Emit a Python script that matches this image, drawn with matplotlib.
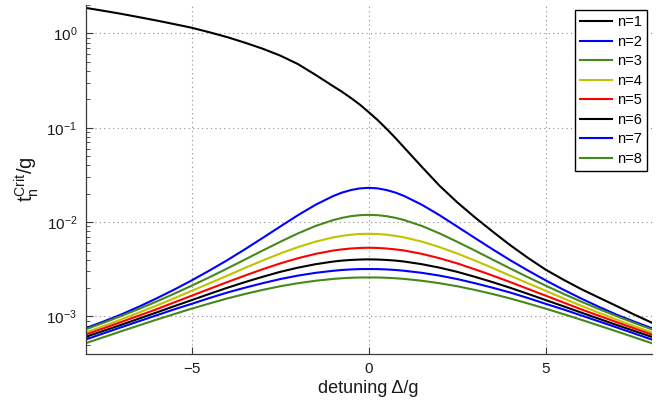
import matplotlib
matplotlib.use("Agg")
import matplotlib.pyplot as plt
from matplotlib.ticker import LogLocator, NullFormatter

plt.rcParams['font.family'] = ['Liberation Sans', 'DejaVu Sans']
plt.rcParams['mathtext.fontset'] = 'custom'
plt.rcParams['mathtext.rm'] = 'Liberation Sans'
plt.rcParams['mathtext.it'] = 'Liberation Sans'

# detuning grid (in units of g), finer around resonance
detuning = [-8, -7.5, -7, -6.5, -6, -5.5, -5, -4.5, -4, -3.5, -3, -2.5, -2, -1.5, -1, -0.75,
            -0.5, -0.25, 0, 0.25, 0.5, 0.75, 1, 1.5, 2, 2.5, 3, 3.5, 4, 4.5, 5, 5.5, 6, 6.5,
            7, 7.5, 8]

# critical hopping t_n^Crit / g for each photon-number manifold
t_n1 = [1.866, 1.738, 1.614, 1.489, 1.371, 1.256, 1.148, 1.028, 0.914, 0.798, 0.689, 0.582,
        0.473, 0.363, 0.275, 0.2399, 0.2065, 0.1758, 0.1462, 0.1208, 0.0977, 0.0782, 0.0617,
        0.0385, 0.0243, 0.0162, 0.01122, 0.00794, 0.00568, 0.00417, 0.00313, 0.00245, 0.00195,
        0.001585, 0.00129, 0.001047, 0.000857]
t_n2 = [0.00075, 0.000881, 0.001045, 0.001265, 0.00155, 0.001921, 0.00241, 0.003065, 0.00394,
        0.005145, 0.00678, 0.00897, 0.01183, 0.01528, 0.01892, 0.02058, 0.02188, 0.02277, 0.02307,
        0.02277, 0.02188, 0.02058, 0.01892, 0.01528, 0.01183, 0.00897, 0.00678, 0.005145, 0.00394,
        0.003065, 0.00241, 0.001921, 0.00155, 0.001265, 0.001045, 0.000881, 0.00075]
t_n3 = [0.000729, 0.000854, 0.001009, 0.001199, 0.001436, 0.001738, 0.00212, 0.002602, 0.00322,
        0.004002, 0.00499, 0.00618, 0.00759, 0.0091, 0.01052, 0.0111, 0.01156, 0.01184, 0.01194,
        0.01184, 0.01156, 0.0111, 0.01052, 0.0091, 0.00759, 0.00618, 0.00499, 0.004002, 0.00322,
        0.002602, 0.00212, 0.001738, 0.001436, 0.001199, 0.001009, 0.000854, 0.000729]
t_n4 = [0.000676, 0.000788, 0.000927, 0.001095, 0.0013, 0.001554, 0.00187, 0.002245, 0.0027,
        0.003263, 0.00391, 0.00465, 0.00543, 0.00621, 0.00689, 0.00715, 0.00735, 0.00748, 0.00752,
        0.00748, 0.00735, 0.00715, 0.00689, 0.00621, 0.00543, 0.00465, 0.00391, 0.003263, 0.0027,
        0.002245, 0.00187, 0.001554, 0.0013, 0.001095, 0.000927, 0.000788, 0.000676]
t_n5 = [0.000643, 0.000747, 0.000871, 0.001018, 0.00119, 0.001406, 0.00166, 0.001958, 0.00231,
        0.00271, 0.00316, 0.00365, 0.00414, 0.00461, 0.0050, 0.00514, 0.00525, 0.00532, 0.00535,
        0.00532, 0.00525, 0.00514, 0.0050, 0.00461, 0.00414, 0.00365, 0.00316, 0.00271, 0.00231,
        0.001958, 0.00166, 0.001406, 0.00119, 0.001018, 0.000871, 0.000747, 0.000643]
t_n6 = [0.000607, 0.000702, 0.000813, 0.000946, 0.0011, 0.001282, 0.00149, 0.001734, 0.00201,
        0.002309, 0.00263, 0.00297, 0.00329, 0.00358, 0.00382, 0.00391, 0.00397, 0.00401, 0.00403,
        0.00401, 0.00397, 0.00391, 0.00382, 0.00358, 0.00329, 0.00297, 0.00263, 0.002309, 0.00201,
        0.001734, 0.00149, 0.001282, 0.0011, 0.000946, 0.000813, 0.000702, 0.000607]
t_n7 = [0.000569, 0.00066, 0.000766, 0.000887, 0.001026, 0.001187, 0.00136, 0.001567, 0.00179,
        0.002016, 0.00225, 0.00249, 0.00271, 0.0029, 0.00305, 0.00311, 0.00315, 0.003176, 0.00318,
        0.003176, 0.00315, 0.00311, 0.00305, 0.0029, 0.00271, 0.00249, 0.00225, 0.002016, 0.00179,
        0.001567, 0.00136, 0.001187, 0.001026, 0.000887, 0.000766, 0.00066, 0.000569]
t_n8 = [0.00052, 0.000601, 0.000695, 0.000801, 0.000923, 0.001058, 0.00121, 0.001372, 0.00155,
        0.001729, 0.00191, 0.00209, 0.00225, 0.00239, 0.0025, 0.002541, 0.00257, 0.002588, 0.00259,
        0.002588, 0.00257, 0.002541, 0.0025, 0.00239, 0.00225, 0.00209, 0.00191, 0.001729, 0.00155,
        0.001372, 0.00121, 0.001058, 0.000923, 0.000801, 0.000695, 0.000601, 0.00052]

series = [t_n1, t_n2, t_n3, t_n4, t_n5, t_n6, t_n7, t_n8]
labels = ['n=1', 'n=2', 'n=3', 'n=4', 'n=5', 'n=6', 'n=7', 'n=8']
green = '#43891c'
colors = ['black', '#0000ff', green, '#c2c200', '#ff0000', 'black', '#0000ff', green]

fig = plt.figure(figsize=(6.66, 4.03), dpi=100)
ax = fig.add_axes([0.1284, 0.1216, 0.8505, 0.866])

for vals, lab, col in zip(series, labels, colors):
    ax.plot(detuning, vals, color=col, lw=1.5, label=lab, solid_joinstyle='round')

ax.set_yscale('log')
ax.set_xlim(-8, 8)
ax.set_ylim(4.0e-4, 2.0)
ax.set_xticks([-5, 0, 5])
ax.set_xticklabels(['\u22125', '0', '5'])
ax.yaxis.set_major_locator(LogLocator(base=10, numticks=10))
ax.yaxis.set_minor_locator(LogLocator(base=10, subs=range(2, 10), numticks=20))
ax.yaxis.set_minor_formatter(NullFormatter())

spine_col = '#3a3a3a'
for side in ('top', 'right'):
    ax.spines[side].set_visible(False)
for side in ('left', 'bottom'):
    ax.spines[side].set_color(spine_col)
    ax.spines[side].set_linewidth(0.9)

ax.tick_params(axis='both', which='both', direction='in', colors=spine_col,
               labelcolor='#1a1a1a', labelsize=11)
ax.tick_params(axis='both', which='major', length=5, width=0.8, pad=6)
ax.tick_params(axis='y', which='minor', length=3, width=0.6)

ax.grid(True, which='major', color='#8c8c8c', linestyle=(0, (1, 3)), linewidth=0.8)

ax.set_xlabel('detuning \u0394/g', fontsize=13, color='#1a1a1a', labelpad=3)
ax.set_ylabel(r'$\mathregular{t_n^{Crit}/g}$', fontsize=14.5, color='#1a1a1a', labelpad=4)

leg = ax.legend(loc='upper right', fontsize=10.5, frameon=True, fancybox=False,
                framealpha=1, edgecolor='black', handlelength=2.2, handletextpad=0.3,
                labelspacing=0.38, borderpad=0.35, borderaxespad=0.35)
leg.get_frame().set_linewidth(1.0)

fig.savefig('out.png', dpi=100)
